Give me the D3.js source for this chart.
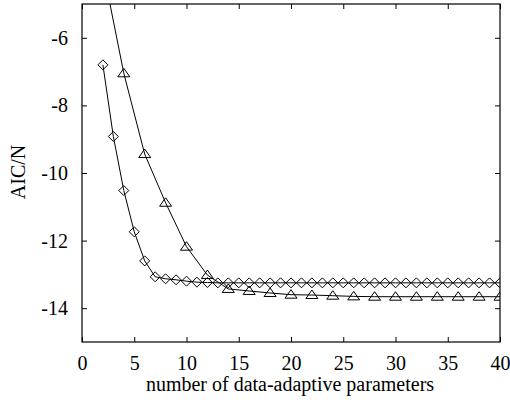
<!DOCTYPE html>
<html><head><meta charset="utf-8">
<script src="https://cdn.jsdelivr.net/npm/d3@7"></script>
<style>body{margin:0;background:#fff}svg{display:block}text{font-family:"Liberation Serif","Times New Roman",serif;fill:#000}</style>
</head><body><svg id="c" width="510" height="400"></svg>
<script>
const diamondX = [2,3,4,5,6,7,8,9,10,11,12,13,14,15,16,17,18,19,20,21,22,23,24,25,26,27,28,29,30,31,32,33,34,35,36,37,38,39,40];
const diamondY = [-6.8,-8.92,-10.52,-11.74,-12.6,-13.07,-13.13,-13.16,-13.2,-13.23,-13.24,-13.25,-13.25,-13.25,-13.25,-13.25,-13.25,-13.25,-13.25,-13.25,-13.25,-13.25,-13.25,-13.25,-13.25,-13.25,-13.25,-13.25,-13.25,-13.25,-13.25,-13.25,-13.25,-13.25,-13.25,-13.25,-13.25,-13.25,-13.25];
const triangleX = [2,4,6,8,10,12,14,16,18,20,22,24,26,28,30,32,34,36,38,40];
const triangleY = [-3.95,-7.05,-9.44,-10.88,-12.18,-13.02,-13.43,-13.49,-13.55,-13.6,-13.61,-13.63,-13.65,-13.66,-13.66,-13.66,-13.66,-13.66,-13.66,-13.66];
const xTicks = [0,5,10,15,20,25,30,35,40];
const yTicks = [-6,-8,-10,-12,-14];
const xTitle = "number of data-adaptive parameters";
const yTitle = "AIC/N";

const L=82,R=500,T=4,B=342;
const FS=20;
const svg=d3.select("#c");
const x=d3.scaleLinear().domain([0,40]).range([L,R]);
const y=d3.scaleLinear().domain([-15,-5]).range([B,T]);
const fmt=d=>String(d);

svg.append("defs").append("clipPath").attr("id","clip").append("rect")
  .attr("x",L).attr("y",T).attr("width",R-L).attr("height",B-T);

const tl=5;
const gx=svg.append("g").attr("transform",`translate(0,${B})`)
  .call(d3.axisBottom(x).tickValues(xTicks).tickSizeInner(-tl).tickSizeOuter(0).tickPadding(14).tickFormat(fmt));
const gxt=svg.append("g").attr("transform",`translate(0,${T})`)
  .call(d3.axisTop(x).tickValues(xTicks).tickSizeInner(-tl).tickSizeOuter(0).tickFormat(""));
const gy=svg.append("g").attr("transform",`translate(${L},0)`)
  .call(d3.axisLeft(y).tickValues(yTicks).tickSizeInner(-tl).tickSizeOuter(0).tickPadding(14).tickFormat(fmt));
const gyr=svg.append("g").attr("transform",`translate(${R},0)`)
  .call(d3.axisRight(y).tickValues(yTicks).tickSizeInner(-tl).tickSizeOuter(0).tickFormat(""));
[gx,gxt,gy,gyr].forEach(g=>{g.select(".domain").remove();g.selectAll("line").attr("stroke","#000");});
[gx,gy].forEach(g=>g.selectAll("text").attr("font-size",FS).attr("font-family","Liberation Serif").attr("fill","#000"));
svg.append("rect").attr("x",L).attr("y",T).attr("width",R-L).attr("height",B-T)
  .attr("fill","none").attr("stroke","#000").attr("stroke-width",1.2);

const plot=svg.append("g").attr("clip-path","url(#clip)");
const line=d3.line().x(d=>x(d[0])).y(d=>y(d[1]));
const dData=diamondX.map((v,i)=>[v,diamondY[i]]);
const tData=triangleX.map((v,i)=>[v,triangleY[i]]);
plot.append("path").datum(dData).attr("d",line).attr("fill","none").attr("stroke","#000").attr("stroke-width",1);
plot.append("path").datum(tData).attr("d",line).attr("fill","none").attr("stroke","#000").attr("stroke-width",1);
plot.selectAll(".dm").data(dData).enter().append("path")
  .attr("d","M0,-5L5,0L0,5L-5,0Z").attr("transform",d=>`translate(${x(d[0])},${y(d[1])})`)
  .attr("fill","none").attr("stroke","#000").attr("stroke-width",1);
plot.selectAll(".tr").data(tData).enter().append("path")
  .attr("d","M0,-5L6,3.5L-6,3.5Z").attr("transform",d=>`translate(${x(d[0])},${y(d[1])})`)
  .attr("fill","none").attr("stroke","#000").attr("stroke-width",1);

svg.append("text").attr("x",290).attr("y",391).attr("text-anchor","middle")
  .attr("font-size",FS).text(xTitle);
svg.append("text").attr("transform",`translate(25,172) rotate(-90)`).attr("text-anchor","middle")
  .attr("font-size",FS).text(yTitle);
</script></body></html>
